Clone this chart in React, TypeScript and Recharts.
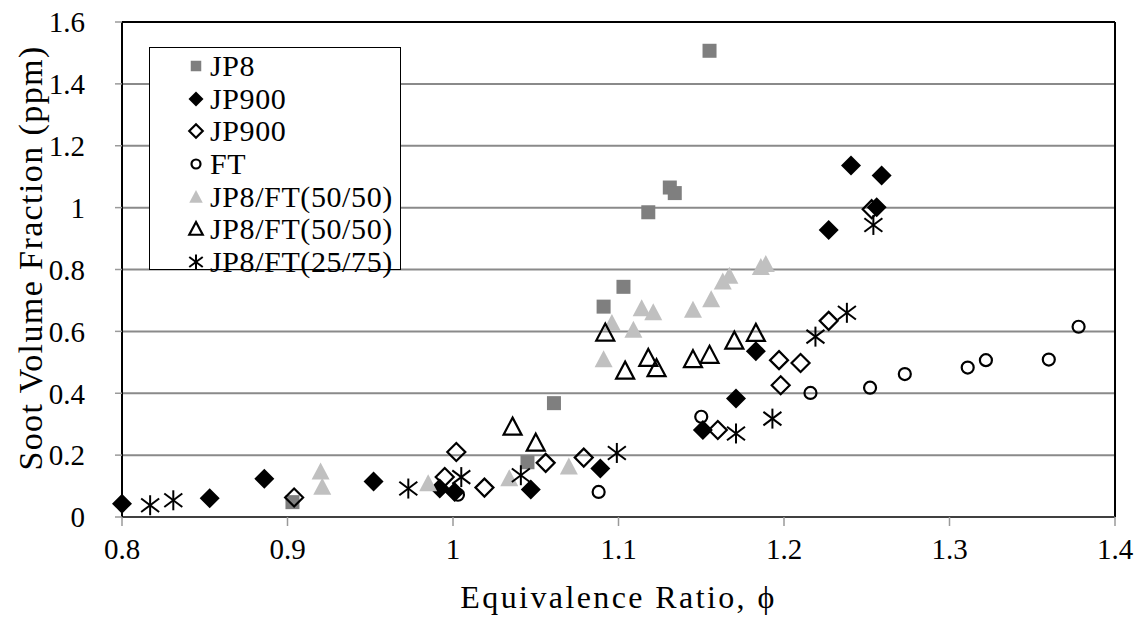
import React from 'react';
import { ScatterChart, Scatter, XAxis, YAxis, CartesianGrid, ReferenceLine } from 'recharts';

// axis ticks
const xTicks = [0.8, 0.9, 1.0, 1.1, 1.2, 1.3, 1.4];
const xTickLabels = ['0.8', '0.9', '1', '1.1', '1.2', '1.3', '1.4'];
const yTicks = [0, 0.2, 0.4, 0.6, 0.8, 1.0, 1.2, 1.4, 1.6];
const yTickLabels = ['0', '0.2', '0.4', '0.6', '0.8', '1', '1.2', '1.4', '1.6'];

// JP8 (grey squares)
const jp8Phi = [0.903, 1.045, 1.061, 1.091, 1.103, 1.118, 1.131, 1.134, 1.155];
const jp8Soot = [0.048, 0.177, 0.368, 0.68, 0.744, 0.985, 1.065, 1.047, 1.507];

// JP900 (filled diamonds)
const jp900aPhi = [0.8, 0.853, 0.886, 0.952, 0.992, 1.001, 1.047, 1.089, 1.151, 1.171, 1.183, 1.227, 1.2405, 1.256, 1.259];
const jp900aSoot = [0.043, 0.061, 0.124, 0.115, 0.092, 0.081, 0.089, 0.157, 0.281, 0.383, 0.536, 0.928, 1.136, 1.001, 1.104];

// JP900 (open diamonds)
const jp900bPhi = [0.904, 0.995, 1.002, 1.019, 1.056, 1.079, 1.16, 1.197, 1.198, 1.21, 1.227, 1.253];
const jp900bSoot = [0.063, 0.129, 0.21, 0.095, 0.175, 0.192, 0.281, 0.507, 0.426, 0.498, 0.634, 0.995];

// FT (open circles)
const ftPhi = [1.003, 1.088, 1.15, 1.216, 1.252, 1.273, 1.311, 1.322, 1.36, 1.378];
const ftSoot = [0.072, 0.081, 0.324, 0.401, 0.418, 0.462, 0.483, 0.507, 0.509, 0.615];

// JP8/FT(50/50) (light grey triangles)
const mixAPhi = [0.92, 0.921, 0.985, 1.034, 1.07, 1.091, 1.096, 1.109, 1.114, 1.121, 1.145, 1.156, 1.163, 1.167, 1.186, 1.189];
const mixASoot = [0.146, 0.097, 0.108, 0.124, 0.162, 0.509, 0.626, 0.604, 0.674, 0.661, 0.669, 0.703, 0.76, 0.779, 0.807, 0.817];

// JP8/FT(50/50) (open triangles)
const mixBPhi = [1.036, 1.05, 1.092, 1.104, 1.118, 1.123, 1.145, 1.155, 1.17, 1.183];
const mixBSoot = [0.291, 0.239, 0.595, 0.472, 0.513, 0.48, 0.509, 0.523, 0.569, 0.594];

// JP8/FT(25/75) (asterisks)
const mixCPhi = [0.817, 0.831, 0.973, 1.005, 1.041, 1.099, 1.171, 1.193, 1.219, 1.238, 1.254];
const mixCSoot = [0.038, 0.054, 0.092, 0.129, 0.135, 0.207, 0.27, 0.318, 0.583, 0.66, 0.944];

const FONT = "'Liberation Serif', 'DejaVu Serif', serif";

const toPoints = (xs: number[], ys: number[]) => xs.map((x, i) => ({ x, y: ys[i] }));

type Mark = 'square' | 'diamond' | 'openDiamond' | 'circle' | 'triangle' | 'openTriangle' | 'star';

// draws one marker centred on (cx, cy)
function marker(kind: Mark, cx: number, cy: number, k = 1) {
    if (kind === 'square') {
        const s = 14 * k;
        return <rect x={cx - s / 2} y={cy - s / 2} width={s} height={s} fill="#7f7f7f" />;
    }
    if (kind === 'diamond' || kind === 'openDiamond') {
        const r = (kind === 'diamond' ? 10 : 9) * k;
        const pts = `${cx},${cy - r} ${cx + r},${cy} ${cx},${cy + r} ${cx - r},${cy}`;
        return kind === 'diamond'
            ? <polygon points={pts} fill="#000" />
            : <polygon points={pts} fill="none" stroke="#000" strokeWidth={2.2} />;
    }
    if (kind === 'circle') {
        return <circle cx={cx} cy={cy} r={6 * k} fill="none" stroke="#000" strokeWidth={2.2} />;
    }
    if (kind === 'triangle' || kind === 'openTriangle') {
        const w = 18 * k;
        const h = 17 * k;
        const pts = `${cx},${cy - h * 0.55} ${cx + w / 2},${cy + h * 0.45} ${cx - w / 2},${cy + h * 0.45}`;
        return kind === 'triangle'
            ? <polygon points={pts} fill="#c0c0c0" />
            : <polygon points={pts} fill="none" stroke="#000" strokeWidth={2.2} />;
    }
    const a = 9 * k;
    const b = 10 * k;
    return (
        <g stroke="#000" strokeWidth={2}>
            <line x1={cx} y1={cy - b} x2={cx} y2={cy + b} />
            <line x1={cx - a} y1={cy - a * 0.75} x2={cx + a} y2={cy + a * 0.75} />
            <line x1={cx - a} y1={cy + a * 0.75} x2={cx + a} y2={cy - a * 0.75} />
        </g>
    );
}

const series: { name: string; mark: Mark; data: { x: number; y: number }[] }[] = [
    { name: 'JP8', mark: 'square', data: toPoints(jp8Phi, jp8Soot) },
    { name: 'JP900', mark: 'diamond', data: toPoints(jp900aPhi, jp900aSoot) },
    { name: 'JP900', mark: 'openDiamond', data: toPoints(jp900bPhi, jp900bSoot) },
    { name: 'FT', mark: 'circle', data: toPoints(ftPhi, ftSoot) },
    { name: 'JP8/FT(50/50)', mark: 'triangle', data: toPoints(mixAPhi, mixASoot) },
    { name: 'JP8/FT(50/50)', mark: 'openTriangle', data: toPoints(mixBPhi, mixBSoot) },
    { name: 'JP8/FT(25/75)', mark: 'star', data: toPoints(mixCPhi, mixCSoot) },
];

const LegendBox = () => (
    <div
        style={{
            position: 'absolute',
            left: 149,
            top: 47,
            width: 252,
            height: 223,
            border: '1.5px solid #000',
            background: '#fff',
            boxSizing: 'border-box',
            paddingTop: 2,
            fontFamily: FONT,
        }}
    >
        {series.map((s, i) => (
            <div key={i} style={{ display: 'flex', alignItems: 'center', height: 32.6 }}>
                <svg width={22} height={22} style={{ marginLeft: 35, marginRight: 3 }}>
                    {marker(s.mark, 11, 11, 0.75)}
                </svg>
                <span style={{ fontSize: 30, lineHeight: '32px', color: '#000', letterSpacing: 0.6, whiteSpace: 'nowrap' }}>
                    {s.name}
                </span>
            </div>
        ))}
    </div>
);

// rotated y-axis title
const YTitle = () => (
    <text
        x={30}
        y={258}
        transform="rotate(-90, 30, 258)"
        textAnchor="middle"
        dominantBaseline="central"
        fill="#000"
        fontSize={34}
        fontFamily={FONT}
        letterSpacing={1.4}
    >
        Soot Volume Fraction (ppm)
    </text>
);

export default function App() {
    return (
        <div style={{ position: 'absolute', left: 0, top: 0, width: 1145, height: 617, background: '#fff' }}>
            <ScatterChart width={1145} height={617} margin={{ top: 22, right: 30, bottom: 0, left: 0 }}>
                <CartesianGrid horizontal vertical={false} stroke="#8a8a8a" strokeWidth={2} />
                <XAxis
                    type="number"
                    dataKey="x"
                    domain={[0.8, 1.4]}
                    ticks={xTicks}
                    tickFormatter={(v: number) => xTickLabels[xTicks.findIndex((t) => Math.abs(t - v) < 1e-6)]}
                    height={100}
                    tickSize={9}
                    tickMargin={12}
                    axisLine={{ stroke: '#404040', strokeWidth: 2 }}
                    tickLine={{ stroke: '#9a9a9a', strokeWidth: 1.5 }}
                    tick={{ fill: '#000', fontSize: 29, fontFamily: FONT }}
                    label={{
                        value: 'Equivalence Ratio, ϕ',
                        position: 'insideBottom',
                        offset: 9,
                        style: { fill: '#000', fontSize: 32, fontFamily: FONT, letterSpacing: 2.4, textAnchor: 'middle' },
                    }}
                />
                <YAxis
                    type="number"
                    dataKey="y"
                    domain={[0, 1.6]}
                    ticks={yTicks}
                    tickFormatter={(v: number) => yTickLabels[yTicks.findIndex((t) => Math.abs(t - v) < 1e-6)]}
                    width={122}
                    tickSize={7}
                    tickMargin={30}
                    axisLine={{ stroke: '#000', strokeWidth: 2 }}
                    tickLine={{ stroke: '#9a9a9a', strokeWidth: 1.5 }}
                    tick={{ fill: '#000', fontSize: 29, fontFamily: FONT }}
                    label={<YTitle />}
                />
                <ReferenceLine y={1.6} stroke="#000" strokeWidth={2} />
                <ReferenceLine x={1.4} stroke="#000" strokeWidth={2} />
                {series.map((s, i) => (
                    <Scatter
                        key={i}
                        name={s.name}
                        data={s.data}
                        isAnimationActive={false}
                        shape={(p: any) => marker(s.mark, p.cx, p.cy)}
                    />
                ))}
            </ScatterChart>
            <LegendBox />
        </div>
    );
}
